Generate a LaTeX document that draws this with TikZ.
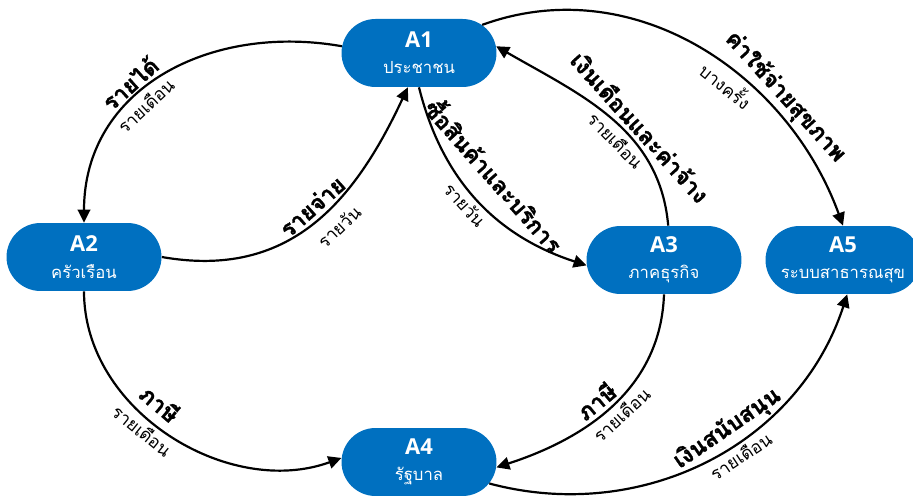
\documentclass[tikz,border=0pt]{standalone}
\usepackage{fontspec}
\newfontfamily\thaifont[Script=Thai, BoldFeatures={FakeBold=1.2}]{Loma}
\newfontfamily\codefont{Open Sans}
\usetikzlibrary{arrows.meta,shapes.misc}
\definecolor{flowBlue}{RGB}{0,112,192}
\definecolor{flowInk}{RGB}{0,0,0}
\tikzset{
  fmain/.style={font=\thaifont\bfseries\fontsize{13}{14}\selectfont,
    text=flowInk, sloped, above, inner sep=2pt},
  fnote/.style={font=\thaifont\fontsize{10}{11}\selectfont,
    text=flowInk, sloped, below, inner sep=2.5pt},
  fflow/.style={-{Triangle[length=2.6mm, width=2.5mm]}, line width=1.25pt,
    draw=flowInk}
}
\newcommand{\sectorid}[1]{{\codefont\bfseries\fontsize{12.5}{13}\selectfont #1}}
\newcommand{\sectorname}[1]{{\thaifont\fontsize{9.5}{11}\selectfont #1}}

\begin{document}
\begin{tikzpicture}[x=0.02cm, y=0.02cm,
  sector/.style={rounded rectangle, fill=flowBlue,
    minimum width=3.1cm, minimum height=1.36cm, inner sep=0pt,
    text=white, align=center}
]
\path[use as bounding box] (0,0) rectangle (913,500);

\node[sector] (A1) at (419,447) {\sectorid{A1}\\[3pt]\sectorname{ประชาชน}};
\node[sector] (A2) at (84,243) {\sectorid{A2}\\[3pt]\sectorname{ครัวเรือน}};
\node[sector] (A3) at (664,240) {\sectorid{A3}\\[3pt]\sectorname{ภาคธุรกิจ}};
\node[sector] (A4) at (419,38) {\sectorid{A4}\\[3pt]\sectorname{รัฐบาล}};
\node[sector] (A5) at (843,240) {\sectorid{A5}\\[3pt]\sectorname{ระบบสาธารณสุข}};

\draw[fflow] (A1.175) to[out=170, in=90, looseness=1.1]
  node[fmain, pos=.59] {รายได้} node[fnote, pos=.6] {รายเดือน} (A2.north);
\draw[fflow] (A2.east) to[out=-10, in=245, looseness=1.1]
  node[fmain, pos=.54] {รายจ่าย} node[fnote, pos=.56, below=4pt] {รายวัน} (A1.252);
\draw[fflow] (A1.south) to[out=-76, in=162]
  node[fmain, pos=.47, above=8pt] {ซื้อสินค้าและบริการ} node[fnote, pos=.48] {รายวัน} (A3.184);
\draw[fflow] (A3.83) to[out=95, in=-30]
  node[fmain, pos=.39] {เงินเดือนและค่าจ้าง} node[fnote, pos=.42] {รายเดือน} (A1.5);
\draw[fflow] (A1.24) to[out=20, in=110]
  node[fmain, pos=.71] {ค่าใช้จ่ายสุขภาพ} node[fnote, pos=.6] {บางครั้ง} (A5.north);
\draw[fflow] (A2.south) to[out=-90, in=200]
  node[fmain, pos=.42, above=3pt] {ภาษี} node[fnote, pos=.43] {รายเดือน} (A4.177);
\draw[fflow] (A3.south) to[out=-92, in=18]
  node[fmain, pos=.54] {ภาษี} node[fnote, pos=.5] {รายเดือน} (A4.-4);
\draw[fflow] (A4.-17) to[out=-15, in=252]
  node[fmain, pos=.58] {เงินสนับสนุน} node[fnote, pos=.57] {รายเดือน} (A5.-83);
\end{tikzpicture}
\end{document}
